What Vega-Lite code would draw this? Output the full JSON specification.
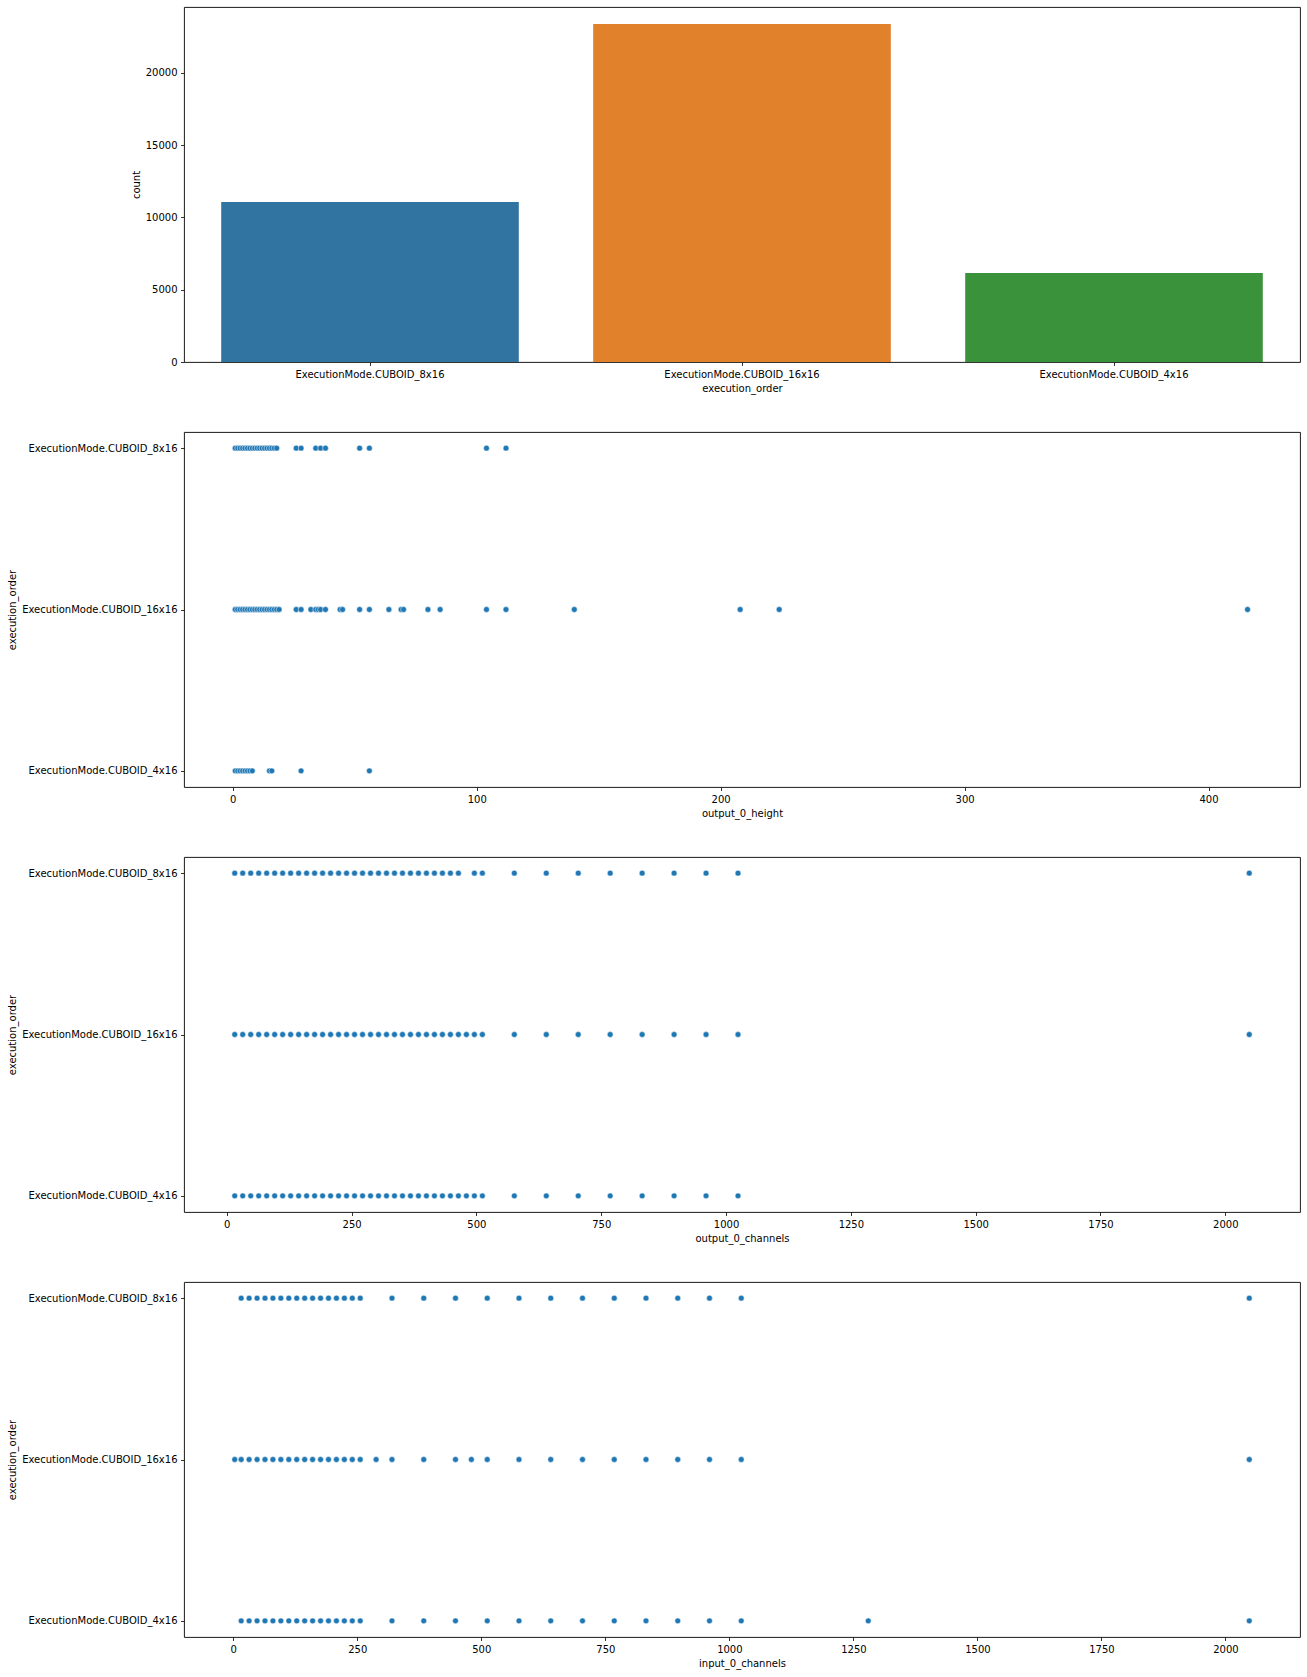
{
  "$schema": "https://vega.github.io/schema/vega-lite/v6.json",
  "background": "white",
  "padding": {"left": 7, "top": 6, "right": 6, "bottom": 5},
  "spacing": 70,
  "bounds": "flush",
  "config": {
    "font": "DejaVu Sans",
    "view": {"stroke": "#000000", "strokeWidth": 0.9},
    "axis": {
      "grid": false,
      "domain": false,
      "labelFont": "DejaVu Sans",
      "labelFontSize": 10,
      "labelColor": "#000000",
      "tickColor": "#000000",
      "tickSize": 3.5,
      "tickWidth": 0.8,
      "labelPadding": 3.5,
      "titleFont": "DejaVu Sans",
      "titleFontSize": 10,
      "titleFontWeight": "normal",
      "titleColor": "#000000",
      "titlePadding": 4
    }
  },
  "datasets": {
    "counts": [
      {"execution_order": "ExecutionMode.CUBOID_8x16", "count": 11073},
      {"execution_order": "ExecutionMode.CUBOID_16x16", "count": 23391},
      {"execution_order": "ExecutionMode.CUBOID_4x16", "count": 6159}
    ],
    "height": [
      {"execution_order": "ExecutionMode.CUBOID_8x16", "output_0_height": 1},
      {"execution_order": "ExecutionMode.CUBOID_8x16", "output_0_height": 2},
      {"execution_order": "ExecutionMode.CUBOID_8x16", "output_0_height": 3},
      {"execution_order": "ExecutionMode.CUBOID_8x16", "output_0_height": 4},
      {"execution_order": "ExecutionMode.CUBOID_8x16", "output_0_height": 5},
      {"execution_order": "ExecutionMode.CUBOID_8x16", "output_0_height": 6},
      {"execution_order": "ExecutionMode.CUBOID_8x16", "output_0_height": 7},
      {"execution_order": "ExecutionMode.CUBOID_8x16", "output_0_height": 8},
      {"execution_order": "ExecutionMode.CUBOID_8x16", "output_0_height": 9},
      {"execution_order": "ExecutionMode.CUBOID_8x16", "output_0_height": 10},
      {"execution_order": "ExecutionMode.CUBOID_8x16", "output_0_height": 11},
      {"execution_order": "ExecutionMode.CUBOID_8x16", "output_0_height": 12},
      {"execution_order": "ExecutionMode.CUBOID_8x16", "output_0_height": 13},
      {"execution_order": "ExecutionMode.CUBOID_8x16", "output_0_height": 14},
      {"execution_order": "ExecutionMode.CUBOID_8x16", "output_0_height": 15},
      {"execution_order": "ExecutionMode.CUBOID_8x16", "output_0_height": 16},
      {"execution_order": "ExecutionMode.CUBOID_8x16", "output_0_height": 17},
      {"execution_order": "ExecutionMode.CUBOID_8x16", "output_0_height": 18},
      {"execution_order": "ExecutionMode.CUBOID_8x16", "output_0_height": 26},
      {"execution_order": "ExecutionMode.CUBOID_8x16", "output_0_height": 28},
      {"execution_order": "ExecutionMode.CUBOID_8x16", "output_0_height": 34},
      {"execution_order": "ExecutionMode.CUBOID_8x16", "output_0_height": 36},
      {"execution_order": "ExecutionMode.CUBOID_8x16", "output_0_height": 38},
      {"execution_order": "ExecutionMode.CUBOID_8x16", "output_0_height": 52},
      {"execution_order": "ExecutionMode.CUBOID_8x16", "output_0_height": 56},
      {"execution_order": "ExecutionMode.CUBOID_8x16", "output_0_height": 104},
      {"execution_order": "ExecutionMode.CUBOID_8x16", "output_0_height": 112},
      {"execution_order": "ExecutionMode.CUBOID_16x16", "output_0_height": 1},
      {"execution_order": "ExecutionMode.CUBOID_16x16", "output_0_height": 2},
      {"execution_order": "ExecutionMode.CUBOID_16x16", "output_0_height": 3},
      {"execution_order": "ExecutionMode.CUBOID_16x16", "output_0_height": 4},
      {"execution_order": "ExecutionMode.CUBOID_16x16", "output_0_height": 5},
      {"execution_order": "ExecutionMode.CUBOID_16x16", "output_0_height": 6},
      {"execution_order": "ExecutionMode.CUBOID_16x16", "output_0_height": 7},
      {"execution_order": "ExecutionMode.CUBOID_16x16", "output_0_height": 8},
      {"execution_order": "ExecutionMode.CUBOID_16x16", "output_0_height": 9},
      {"execution_order": "ExecutionMode.CUBOID_16x16", "output_0_height": 10},
      {"execution_order": "ExecutionMode.CUBOID_16x16", "output_0_height": 11},
      {"execution_order": "ExecutionMode.CUBOID_16x16", "output_0_height": 12},
      {"execution_order": "ExecutionMode.CUBOID_16x16", "output_0_height": 13},
      {"execution_order": "ExecutionMode.CUBOID_16x16", "output_0_height": 14},
      {"execution_order": "ExecutionMode.CUBOID_16x16", "output_0_height": 15},
      {"execution_order": "ExecutionMode.CUBOID_16x16", "output_0_height": 16},
      {"execution_order": "ExecutionMode.CUBOID_16x16", "output_0_height": 17},
      {"execution_order": "ExecutionMode.CUBOID_16x16", "output_0_height": 18},
      {"execution_order": "ExecutionMode.CUBOID_16x16", "output_0_height": 19},
      {"execution_order": "ExecutionMode.CUBOID_16x16", "output_0_height": 26},
      {"execution_order": "ExecutionMode.CUBOID_16x16", "output_0_height": 28},
      {"execution_order": "ExecutionMode.CUBOID_16x16", "output_0_height": 32},
      {"execution_order": "ExecutionMode.CUBOID_16x16", "output_0_height": 34},
      {"execution_order": "ExecutionMode.CUBOID_16x16", "output_0_height": 35},
      {"execution_order": "ExecutionMode.CUBOID_16x16", "output_0_height": 36},
      {"execution_order": "ExecutionMode.CUBOID_16x16", "output_0_height": 38},
      {"execution_order": "ExecutionMode.CUBOID_16x16", "output_0_height": 44},
      {"execution_order": "ExecutionMode.CUBOID_16x16", "output_0_height": 45},
      {"execution_order": "ExecutionMode.CUBOID_16x16", "output_0_height": 52},
      {"execution_order": "ExecutionMode.CUBOID_16x16", "output_0_height": 56},
      {"execution_order": "ExecutionMode.CUBOID_16x16", "output_0_height": 64},
      {"execution_order": "ExecutionMode.CUBOID_16x16", "output_0_height": 69},
      {"execution_order": "ExecutionMode.CUBOID_16x16", "output_0_height": 70},
      {"execution_order": "ExecutionMode.CUBOID_16x16", "output_0_height": 80},
      {"execution_order": "ExecutionMode.CUBOID_16x16", "output_0_height": 85},
      {"execution_order": "ExecutionMode.CUBOID_16x16", "output_0_height": 104},
      {"execution_order": "ExecutionMode.CUBOID_16x16", "output_0_height": 112},
      {"execution_order": "ExecutionMode.CUBOID_16x16", "output_0_height": 140},
      {"execution_order": "ExecutionMode.CUBOID_16x16", "output_0_height": 208},
      {"execution_order": "ExecutionMode.CUBOID_16x16", "output_0_height": 224},
      {"execution_order": "ExecutionMode.CUBOID_16x16", "output_0_height": 416},
      {"execution_order": "ExecutionMode.CUBOID_4x16", "output_0_height": 1},
      {"execution_order": "ExecutionMode.CUBOID_4x16", "output_0_height": 2},
      {"execution_order": "ExecutionMode.CUBOID_4x16", "output_0_height": 3},
      {"execution_order": "ExecutionMode.CUBOID_4x16", "output_0_height": 4},
      {"execution_order": "ExecutionMode.CUBOID_4x16", "output_0_height": 5},
      {"execution_order": "ExecutionMode.CUBOID_4x16", "output_0_height": 6},
      {"execution_order": "ExecutionMode.CUBOID_4x16", "output_0_height": 7},
      {"execution_order": "ExecutionMode.CUBOID_4x16", "output_0_height": 8},
      {"execution_order": "ExecutionMode.CUBOID_4x16", "output_0_height": 15},
      {"execution_order": "ExecutionMode.CUBOID_4x16", "output_0_height": 16},
      {"execution_order": "ExecutionMode.CUBOID_4x16", "output_0_height": 28},
      {"execution_order": "ExecutionMode.CUBOID_4x16", "output_0_height": 56}
    ],
    "outch": [
      {"e": "ExecutionMode.CUBOID_8x16", "v": 16}, {"e": "ExecutionMode.CUBOID_8x16", "v": 32}, {"e": "ExecutionMode.CUBOID_8x16", "v": 48}, {"e": "ExecutionMode.CUBOID_8x16", "v": 64},
      {"e": "ExecutionMode.CUBOID_8x16", "v": 80}, {"e": "ExecutionMode.CUBOID_8x16", "v": 96}, {"e": "ExecutionMode.CUBOID_8x16", "v": 112}, {"e": "ExecutionMode.CUBOID_8x16", "v": 128},
      {"e": "ExecutionMode.CUBOID_8x16", "v": 144}, {"e": "ExecutionMode.CUBOID_8x16", "v": 160}, {"e": "ExecutionMode.CUBOID_8x16", "v": 176}, {"e": "ExecutionMode.CUBOID_8x16", "v": 192},
      {"e": "ExecutionMode.CUBOID_8x16", "v": 208}, {"e": "ExecutionMode.CUBOID_8x16", "v": 224}, {"e": "ExecutionMode.CUBOID_8x16", "v": 240}, {"e": "ExecutionMode.CUBOID_8x16", "v": 256},
      {"e": "ExecutionMode.CUBOID_8x16", "v": 272}, {"e": "ExecutionMode.CUBOID_8x16", "v": 288}, {"e": "ExecutionMode.CUBOID_8x16", "v": 304}, {"e": "ExecutionMode.CUBOID_8x16", "v": 320},
      {"e": "ExecutionMode.CUBOID_8x16", "v": 336}, {"e": "ExecutionMode.CUBOID_8x16", "v": 352}, {"e": "ExecutionMode.CUBOID_8x16", "v": 368}, {"e": "ExecutionMode.CUBOID_8x16", "v": 384},
      {"e": "ExecutionMode.CUBOID_8x16", "v": 400}, {"e": "ExecutionMode.CUBOID_8x16", "v": 416}, {"e": "ExecutionMode.CUBOID_8x16", "v": 432}, {"e": "ExecutionMode.CUBOID_8x16", "v": 448},
      {"e": "ExecutionMode.CUBOID_8x16", "v": 464}, {"e": "ExecutionMode.CUBOID_8x16", "v": 496}, {"e": "ExecutionMode.CUBOID_8x16", "v": 512},
      {"e": "ExecutionMode.CUBOID_8x16", "v": 576}, {"e": "ExecutionMode.CUBOID_8x16", "v": 640}, {"e": "ExecutionMode.CUBOID_8x16", "v": 704}, {"e": "ExecutionMode.CUBOID_8x16", "v": 768},
      {"e": "ExecutionMode.CUBOID_8x16", "v": 832}, {"e": "ExecutionMode.CUBOID_8x16", "v": 896}, {"e": "ExecutionMode.CUBOID_8x16", "v": 960}, {"e": "ExecutionMode.CUBOID_8x16", "v": 1024},
      {"e": "ExecutionMode.CUBOID_8x16", "v": 2048},
      {"e": "ExecutionMode.CUBOID_16x16", "v": 16}, {"e": "ExecutionMode.CUBOID_16x16", "v": 32}, {"e": "ExecutionMode.CUBOID_16x16", "v": 48}, {"e": "ExecutionMode.CUBOID_16x16", "v": 64},
      {"e": "ExecutionMode.CUBOID_16x16", "v": 80}, {"e": "ExecutionMode.CUBOID_16x16", "v": 96}, {"e": "ExecutionMode.CUBOID_16x16", "v": 112}, {"e": "ExecutionMode.CUBOID_16x16", "v": 128},
      {"e": "ExecutionMode.CUBOID_16x16", "v": 144}, {"e": "ExecutionMode.CUBOID_16x16", "v": 160}, {"e": "ExecutionMode.CUBOID_16x16", "v": 176}, {"e": "ExecutionMode.CUBOID_16x16", "v": 192},
      {"e": "ExecutionMode.CUBOID_16x16", "v": 208}, {"e": "ExecutionMode.CUBOID_16x16", "v": 224}, {"e": "ExecutionMode.CUBOID_16x16", "v": 240}, {"e": "ExecutionMode.CUBOID_16x16", "v": 256},
      {"e": "ExecutionMode.CUBOID_16x16", "v": 272}, {"e": "ExecutionMode.CUBOID_16x16", "v": 288}, {"e": "ExecutionMode.CUBOID_16x16", "v": 304}, {"e": "ExecutionMode.CUBOID_16x16", "v": 320},
      {"e": "ExecutionMode.CUBOID_16x16", "v": 336}, {"e": "ExecutionMode.CUBOID_16x16", "v": 352}, {"e": "ExecutionMode.CUBOID_16x16", "v": 368}, {"e": "ExecutionMode.CUBOID_16x16", "v": 384},
      {"e": "ExecutionMode.CUBOID_16x16", "v": 400}, {"e": "ExecutionMode.CUBOID_16x16", "v": 416}, {"e": "ExecutionMode.CUBOID_16x16", "v": 432}, {"e": "ExecutionMode.CUBOID_16x16", "v": 448},
      {"e": "ExecutionMode.CUBOID_16x16", "v": 464}, {"e": "ExecutionMode.CUBOID_16x16", "v": 480}, {"e": "ExecutionMode.CUBOID_16x16", "v": 496}, {"e": "ExecutionMode.CUBOID_16x16", "v": 512},
      {"e": "ExecutionMode.CUBOID_16x16", "v": 576}, {"e": "ExecutionMode.CUBOID_16x16", "v": 640}, {"e": "ExecutionMode.CUBOID_16x16", "v": 704}, {"e": "ExecutionMode.CUBOID_16x16", "v": 768},
      {"e": "ExecutionMode.CUBOID_16x16", "v": 832}, {"e": "ExecutionMode.CUBOID_16x16", "v": 896}, {"e": "ExecutionMode.CUBOID_16x16", "v": 960}, {"e": "ExecutionMode.CUBOID_16x16", "v": 1024},
      {"e": "ExecutionMode.CUBOID_16x16", "v": 2048},
      {"e": "ExecutionMode.CUBOID_4x16", "v": 16}, {"e": "ExecutionMode.CUBOID_4x16", "v": 32}, {"e": "ExecutionMode.CUBOID_4x16", "v": 48}, {"e": "ExecutionMode.CUBOID_4x16", "v": 64},
      {"e": "ExecutionMode.CUBOID_4x16", "v": 80}, {"e": "ExecutionMode.CUBOID_4x16", "v": 96}, {"e": "ExecutionMode.CUBOID_4x16", "v": 112}, {"e": "ExecutionMode.CUBOID_4x16", "v": 128},
      {"e": "ExecutionMode.CUBOID_4x16", "v": 144}, {"e": "ExecutionMode.CUBOID_4x16", "v": 160}, {"e": "ExecutionMode.CUBOID_4x16", "v": 176}, {"e": "ExecutionMode.CUBOID_4x16", "v": 192},
      {"e": "ExecutionMode.CUBOID_4x16", "v": 208}, {"e": "ExecutionMode.CUBOID_4x16", "v": 224}, {"e": "ExecutionMode.CUBOID_4x16", "v": 240}, {"e": "ExecutionMode.CUBOID_4x16", "v": 256},
      {"e": "ExecutionMode.CUBOID_4x16", "v": 272}, {"e": "ExecutionMode.CUBOID_4x16", "v": 288}, {"e": "ExecutionMode.CUBOID_4x16", "v": 304}, {"e": "ExecutionMode.CUBOID_4x16", "v": 320},
      {"e": "ExecutionMode.CUBOID_4x16", "v": 336}, {"e": "ExecutionMode.CUBOID_4x16", "v": 352}, {"e": "ExecutionMode.CUBOID_4x16", "v": 368}, {"e": "ExecutionMode.CUBOID_4x16", "v": 384},
      {"e": "ExecutionMode.CUBOID_4x16", "v": 400}, {"e": "ExecutionMode.CUBOID_4x16", "v": 416}, {"e": "ExecutionMode.CUBOID_4x16", "v": 432}, {"e": "ExecutionMode.CUBOID_4x16", "v": 448},
      {"e": "ExecutionMode.CUBOID_4x16", "v": 464}, {"e": "ExecutionMode.CUBOID_4x16", "v": 480}, {"e": "ExecutionMode.CUBOID_4x16", "v": 496}, {"e": "ExecutionMode.CUBOID_4x16", "v": 512},
      {"e": "ExecutionMode.CUBOID_4x16", "v": 576}, {"e": "ExecutionMode.CUBOID_4x16", "v": 640}, {"e": "ExecutionMode.CUBOID_4x16", "v": 704}, {"e": "ExecutionMode.CUBOID_4x16", "v": 768},
      {"e": "ExecutionMode.CUBOID_4x16", "v": 832}, {"e": "ExecutionMode.CUBOID_4x16", "v": 896}, {"e": "ExecutionMode.CUBOID_4x16", "v": 960}, {"e": "ExecutionMode.CUBOID_4x16", "v": 1024}
    ],
    "inch": [
      {"e": "ExecutionMode.CUBOID_8x16", "v": 16}, {"e": "ExecutionMode.CUBOID_8x16", "v": 32}, {"e": "ExecutionMode.CUBOID_8x16", "v": 48}, {"e": "ExecutionMode.CUBOID_8x16", "v": 64},
      {"e": "ExecutionMode.CUBOID_8x16", "v": 80}, {"e": "ExecutionMode.CUBOID_8x16", "v": 96}, {"e": "ExecutionMode.CUBOID_8x16", "v": 112}, {"e": "ExecutionMode.CUBOID_8x16", "v": 128},
      {"e": "ExecutionMode.CUBOID_8x16", "v": 144}, {"e": "ExecutionMode.CUBOID_8x16", "v": 160}, {"e": "ExecutionMode.CUBOID_8x16", "v": 176}, {"e": "ExecutionMode.CUBOID_8x16", "v": 192},
      {"e": "ExecutionMode.CUBOID_8x16", "v": 208}, {"e": "ExecutionMode.CUBOID_8x16", "v": 224}, {"e": "ExecutionMode.CUBOID_8x16", "v": 240}, {"e": "ExecutionMode.CUBOID_8x16", "v": 256},
      {"e": "ExecutionMode.CUBOID_8x16", "v": 320}, {"e": "ExecutionMode.CUBOID_8x16", "v": 384}, {"e": "ExecutionMode.CUBOID_8x16", "v": 448}, {"e": "ExecutionMode.CUBOID_8x16", "v": 512},
      {"e": "ExecutionMode.CUBOID_8x16", "v": 576}, {"e": "ExecutionMode.CUBOID_8x16", "v": 640}, {"e": "ExecutionMode.CUBOID_8x16", "v": 704}, {"e": "ExecutionMode.CUBOID_8x16", "v": 768},
      {"e": "ExecutionMode.CUBOID_8x16", "v": 832}, {"e": "ExecutionMode.CUBOID_8x16", "v": 896}, {"e": "ExecutionMode.CUBOID_8x16", "v": 960}, {"e": "ExecutionMode.CUBOID_8x16", "v": 1024},
      {"e": "ExecutionMode.CUBOID_8x16", "v": 2048},
      {"e": "ExecutionMode.CUBOID_16x16", "v": 3},
      {"e": "ExecutionMode.CUBOID_16x16", "v": 16}, {"e": "ExecutionMode.CUBOID_16x16", "v": 32}, {"e": "ExecutionMode.CUBOID_16x16", "v": 48}, {"e": "ExecutionMode.CUBOID_16x16", "v": 64},
      {"e": "ExecutionMode.CUBOID_16x16", "v": 80}, {"e": "ExecutionMode.CUBOID_16x16", "v": 96}, {"e": "ExecutionMode.CUBOID_16x16", "v": 112}, {"e": "ExecutionMode.CUBOID_16x16", "v": 128},
      {"e": "ExecutionMode.CUBOID_16x16", "v": 144}, {"e": "ExecutionMode.CUBOID_16x16", "v": 160}, {"e": "ExecutionMode.CUBOID_16x16", "v": 176}, {"e": "ExecutionMode.CUBOID_16x16", "v": 192},
      {"e": "ExecutionMode.CUBOID_16x16", "v": 208}, {"e": "ExecutionMode.CUBOID_16x16", "v": 224}, {"e": "ExecutionMode.CUBOID_16x16", "v": 240}, {"e": "ExecutionMode.CUBOID_16x16", "v": 256},
      {"e": "ExecutionMode.CUBOID_16x16", "v": 288}, {"e": "ExecutionMode.CUBOID_16x16", "v": 320}, {"e": "ExecutionMode.CUBOID_16x16", "v": 384}, {"e": "ExecutionMode.CUBOID_16x16", "v": 448},
      {"e": "ExecutionMode.CUBOID_16x16", "v": 480}, {"e": "ExecutionMode.CUBOID_16x16", "v": 512},
      {"e": "ExecutionMode.CUBOID_16x16", "v": 576}, {"e": "ExecutionMode.CUBOID_16x16", "v": 640}, {"e": "ExecutionMode.CUBOID_16x16", "v": 704}, {"e": "ExecutionMode.CUBOID_16x16", "v": 768},
      {"e": "ExecutionMode.CUBOID_16x16", "v": 832}, {"e": "ExecutionMode.CUBOID_16x16", "v": 896}, {"e": "ExecutionMode.CUBOID_16x16", "v": 960}, {"e": "ExecutionMode.CUBOID_16x16", "v": 1024},
      {"e": "ExecutionMode.CUBOID_16x16", "v": 2048},
      {"e": "ExecutionMode.CUBOID_4x16", "v": 16}, {"e": "ExecutionMode.CUBOID_4x16", "v": 32}, {"e": "ExecutionMode.CUBOID_4x16", "v": 48}, {"e": "ExecutionMode.CUBOID_4x16", "v": 64},
      {"e": "ExecutionMode.CUBOID_4x16", "v": 80}, {"e": "ExecutionMode.CUBOID_4x16", "v": 96}, {"e": "ExecutionMode.CUBOID_4x16", "v": 112}, {"e": "ExecutionMode.CUBOID_4x16", "v": 128},
      {"e": "ExecutionMode.CUBOID_4x16", "v": 144}, {"e": "ExecutionMode.CUBOID_4x16", "v": 160}, {"e": "ExecutionMode.CUBOID_4x16", "v": 176}, {"e": "ExecutionMode.CUBOID_4x16", "v": 192},
      {"e": "ExecutionMode.CUBOID_4x16", "v": 208}, {"e": "ExecutionMode.CUBOID_4x16", "v": 224}, {"e": "ExecutionMode.CUBOID_4x16", "v": 240}, {"e": "ExecutionMode.CUBOID_4x16", "v": 256},
      {"e": "ExecutionMode.CUBOID_4x16", "v": 320}, {"e": "ExecutionMode.CUBOID_4x16", "v": 384}, {"e": "ExecutionMode.CUBOID_4x16", "v": 448}, {"e": "ExecutionMode.CUBOID_4x16", "v": 512},
      {"e": "ExecutionMode.CUBOID_4x16", "v": 576}, {"e": "ExecutionMode.CUBOID_4x16", "v": 640}, {"e": "ExecutionMode.CUBOID_4x16", "v": 704}, {"e": "ExecutionMode.CUBOID_4x16", "v": 768},
      {"e": "ExecutionMode.CUBOID_4x16", "v": 832}, {"e": "ExecutionMode.CUBOID_4x16", "v": 896}, {"e": "ExecutionMode.CUBOID_4x16", "v": 960}, {"e": "ExecutionMode.CUBOID_4x16", "v": 1024},
      {"e": "ExecutionMode.CUBOID_4x16", "v": 1280}, {"e": "ExecutionMode.CUBOID_4x16", "v": 2048}
    ]
  },
  "vconcat": [
    {
      "width": 1116,
      "height": 355,
      "data": {"name": "counts"},
      "mark": {"type": "bar"},
      "encoding": {
        "x": {
          "field": "execution_order",
          "type": "nominal",
          "sort": ["ExecutionMode.CUBOID_8x16", "ExecutionMode.CUBOID_16x16", "ExecutionMode.CUBOID_4x16"],
          "scale": {"paddingInner": 0.2, "paddingOuter": 0.1},
          "axis": {"labelAngle": 0, "title": "execution_order"}
        },
        "y": {
          "field": "count",
          "type": "quantitative",
          "scale": {"domain": [0, 24567], "nice": false},
          "axis": {"values": [0, 5000, 10000, 15000, 20000], "format": "d", "title": "count"}
        },
        "color": {
          "field": "execution_order",
          "type": "nominal",
          "scale": {
            "domain": ["ExecutionMode.CUBOID_8x16", "ExecutionMode.CUBOID_16x16", "ExecutionMode.CUBOID_4x16"],
            "range": ["#3274a1", "#e1812c", "#3a923a"]
          },
          "legend": null
        }
      }
    },
    {
      "width": 1116,
      "height": 355,
      "data": {"name": "height"},
      "mark": {"type": "point", "filled": true, "size": 34, "color": "#1f77b4", "opacity": 1, "stroke": "#ffffff", "strokeWidth": 0.5},
      "encoding": {
        "x": {
          "field": "output_0_height",
          "type": "quantitative",
          "scale": {"domain": [-20, 437.5], "nice": false, "zero": false},
          "axis": {"values": [0, 100, 200, 300, 400], "format": "d", "title": "output_0_height"}
        },
        "y": {
          "field": "execution_order",
          "type": "nominal",
          "sort": ["ExecutionMode.CUBOID_8x16", "ExecutionMode.CUBOID_16x16", "ExecutionMode.CUBOID_4x16"],
          "scale": {"type": "point", "padding": 0.1},
          "axis": {"title": "execution_order"}
        }
      }
    },
    {
      "width": 1116,
      "height": 355,
      "data": {"name": "outch"},
      "mark": {"type": "point", "filled": true, "size": 34, "color": "#1f77b4", "opacity": 1, "stroke": "#ffffff", "strokeWidth": 0.5},
      "encoding": {
        "x": {
          "field": "v",
          "type": "quantitative",
          "scale": {"domain": [-85.6, 2149.6], "nice": false, "zero": false},
          "axis": {"values": [0, 250, 500, 750, 1000, 1250, 1500, 1750, 2000], "format": "d", "title": "output_0_channels"}
        },
        "y": {
          "field": "e",
          "type": "nominal",
          "sort": ["ExecutionMode.CUBOID_8x16", "ExecutionMode.CUBOID_16x16", "ExecutionMode.CUBOID_4x16"],
          "scale": {"type": "point", "padding": 0.1},
          "axis": {"title": "execution_order"}
        }
      }
    },
    {
      "width": 1116,
      "height": 355,
      "data": {"name": "inch"},
      "mark": {"type": "point", "filled": true, "size": 34, "color": "#1f77b4", "opacity": 1, "stroke": "#ffffff", "strokeWidth": 0.5},
      "encoding": {
        "x": {
          "field": "v",
          "type": "quantitative",
          "scale": {"domain": [-99.25, 2150.25], "nice": false, "zero": false},
          "axis": {"values": [0, 250, 500, 750, 1000, 1250, 1500, 1750, 2000], "format": "d", "title": "input_0_channels"}
        },
        "y": {
          "field": "e",
          "type": "nominal",
          "sort": ["ExecutionMode.CUBOID_8x16", "ExecutionMode.CUBOID_16x16", "ExecutionMode.CUBOID_4x16"],
          "scale": {"type": "point", "padding": 0.1},
          "axis": {"title": "execution_order"}
        }
      }
    }
  ]
}
